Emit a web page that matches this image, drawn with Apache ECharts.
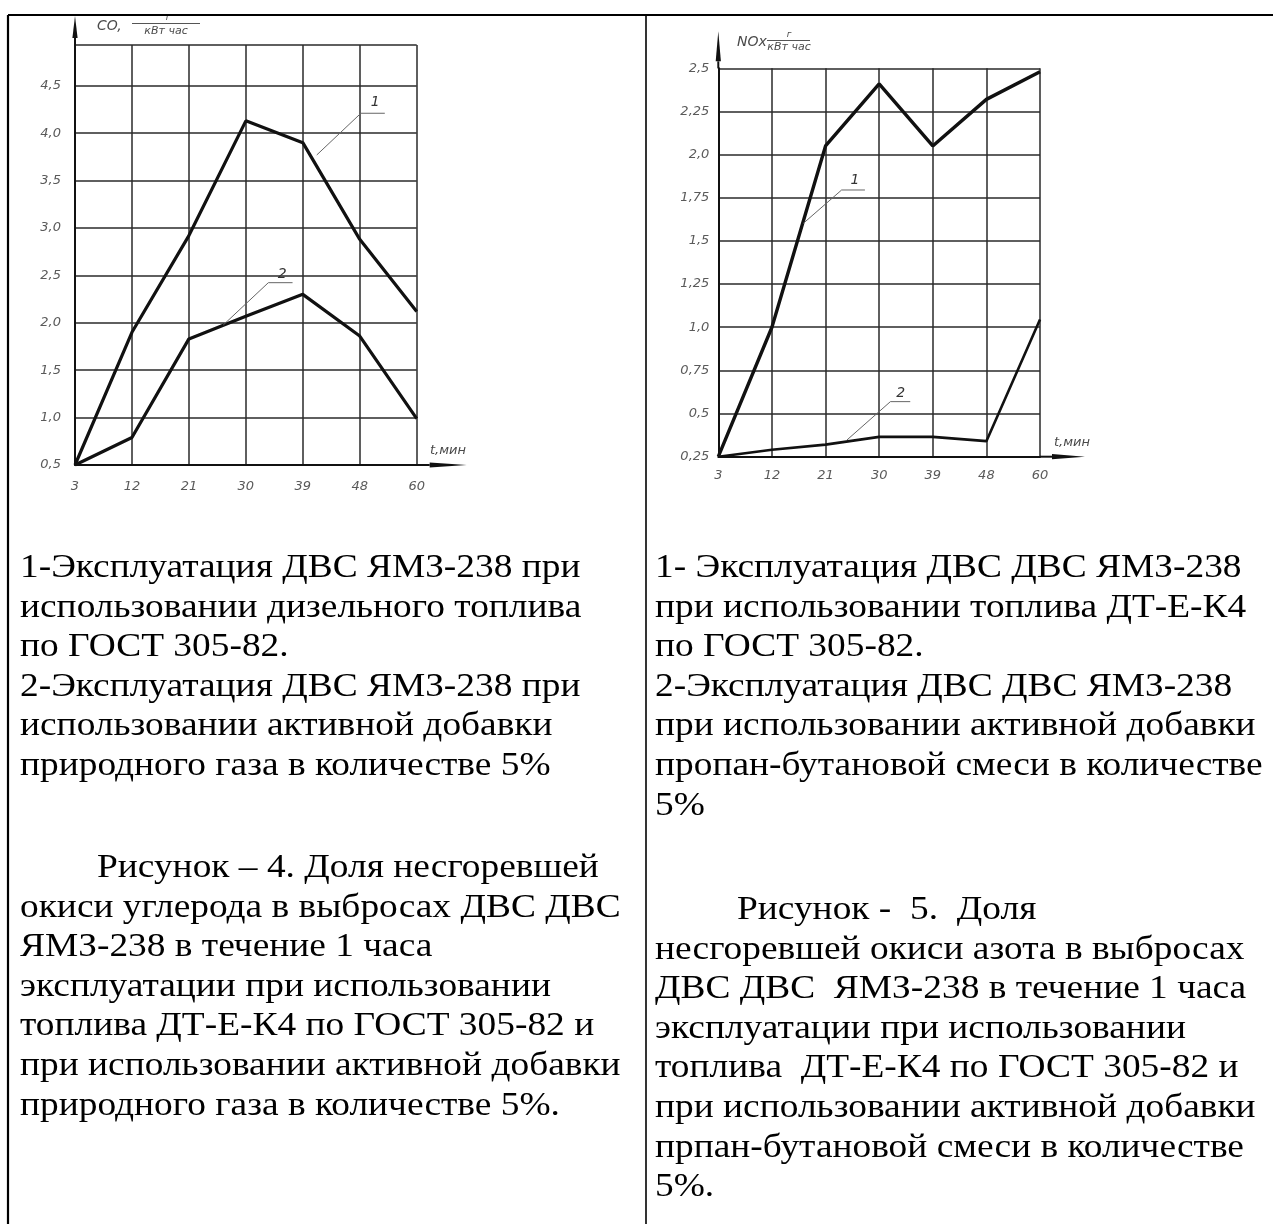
<!DOCTYPE html>
<html><head><meta charset="utf-8">
<script src="https://cdn.jsdelivr.net/npm/echarts@6/dist/echarts.min.js"></script>
<style>html,body{margin:0;padding:0;background:#fff}#c{width:1273px;height:1224px}</style>
</head><body><div id="c"></div><script>
// ---- data ----
const times = ['3', '12', '21', '30', '39', '48', '60'];
const coDiesel = [0.5, 1.9, 2.92, 4.13, 3.9, 2.88, 2.12];
const coGas = [0.5, 0.79, 1.83, 2.07, 2.3, 1.86, 0.99];
const noxDiesel = [0.25, 1.0, 2.05, 2.41, 2.05, 2.32, 2.48];
const noxPropane = [0.25, 0.29, 0.32, 0.365, 0.365, 0.34, 1.045];
const coTicks = ['0,5', '1,0', '1,5', '2,0', '2,5', '3,0', '3,5', '4,0', '4,5'];
const noxTicks = ['0,25', '0,5', '0,75', '1,0', '1,25', '1,5', '1,75', '2,0', '2,25', '2,5'];

const capLeft1 = ['1-Эксплуатация ДВС ЯМЗ-238 при', 'использовании дизельного топлива', 'по ГОСТ 305-82.', '2-Эксплуатация ДВС ЯМЗ-238 при', 'использовании активной добавки', 'природного газа в количестве 5%'];
const capLeft2 = ['Рисунок – 4. Доля несгоревшей', 'окиси углерода в выбросах ДВС ДВС', 'ЯМЗ-238 в течение 1 часа', 'эксплуатации при использовании', 'топлива ДТ-Е-К4 по ГОСТ 305-82 и', 'при использовании активной добавки', 'природного газа в количестве 5%.'];
const capRight1 = ['1- Эксплуатация ДВС ДВС ЯМЗ-238', 'при использовании топлива ДТ-Е-К4', 'по ГОСТ 305-82.', '2-Эксплуатация ДВС ДВС ЯМЗ-238', 'при использовании активной добавки', 'пропан-бутановой смеси в количестве', '5%'];
const capRight2 = ['Рисунок -  5.  Доля', 'несгоревшей окиси азота в выбросах', 'ДВС ДВС  ЯМЗ-238 в течение 1 часа', 'эксплуатации при использовании', 'топлива  ДТ-Е-К4 по ГОСТ 305-82 и', 'при использовании активной добавки', 'прпан-бутановой смеси в количестве', '5%.'];

// ---- styles ----
const axisFont = {fontFamily: '"DejaVu Sans", sans-serif', fontStyle: 'italic', fontSize: 13, color: '#5a5a5a'};
const gridLine = {color: '#2a2a2a', width: 1.5};
const serif = '"Liberation Serif", "Times New Roman", serif';
const CAP_SIZE = 34, CAP_SCALE = 1.1, PITCH = 39.6;

function fmt(ticks, min, step) {
  return function (v) {
    const i = Math.round((v - min) / step);
    return Math.abs(v - (min + step * i)) < 1e-6 ? (ticks[i] || '') : '';
  };
}

const chart = echarts.init(document.getElementById('c'));
const option = {
  animation: false,
  backgroundColor: '#fff',
  grid: [
    {left: 75, top: 45, width: 341.7, height: 420},
    {left: 718.3, top: 68.3, width: 321.7, height: 388.4}
  ],
  xAxis: [0, 1].map(i => ({
    gridIndex: i, type: 'category', data: times, boundaryGap: false,
    axisLine: {lineStyle: {color: '#111', width: 2}},
    axisTick: {show: false},
    axisLabel: Object.assign({}, axisFont, {margin: i ? 12 : 15, interval: 0}),
    splitLine: {show: true, interval: 0, lineStyle: gridLine}
  })),
  yAxis: [
    {gridIndex: 0, type: 'value', min: 0.5, max: 4.93, interval: 0.5,
      axisLine: {show: true, lineStyle: {color: '#111', width: 2}}, axisTick: {show: false},
      axisLabel: Object.assign({}, axisFont, {margin: 14, formatter: fmt(coTicks, 0.5, 0.5)}),
      splitLine: {show: true, lineStyle: gridLine}},
    {gridIndex: 1, type: 'value', min: 0.25, max: 2.5, interval: 0.25,
      axisLine: {show: true, lineStyle: {color: '#111', width: 2}}, axisTick: {show: false},
      axisLabel: Object.assign({}, axisFont, {margin: 9, formatter: fmt(noxTicks, 0.25, 0.25)}),
      splitLine: {show: true, lineStyle: gridLine}}
  ],
  series: [
    {type: 'line', xAxisIndex: 0, yAxisIndex: 0, data: coDiesel, symbol: 'none', lineStyle: {color: '#111', width: 3.2}, z: 5},
    {type: 'line', xAxisIndex: 0, yAxisIndex: 0, data: coGas, symbol: 'none', lineStyle: {color: '#111', width: 3.2}, z: 5},
    {type: 'line', xAxisIndex: 1, yAxisIndex: 1, data: noxDiesel, symbol: 'none', lineStyle: {color: '#111', width: 3.4}, z: 5},
    {type: 'line', xAxisIndex: 1, yAxisIndex: 1, data: noxPropane, symbol: 'none', lineStyle: {color: '#111', width: 2.6}, z: 5}
  ]
};
chart.setOption(option);

// pixel helper with fractional category index
function px(g, xi, y) {
  const a = chart.convertToPixel({gridIndex: g}, [0, y]);
  const b = chart.convertToPixel({gridIndex: g}, [1, y]);
  return [a[0] + (b[0] - a[0]) * xi, a[1]];
}
const G = [];
function line(points, w, color) {
  G.push({type: 'polyline', shape: {points: points}, style: {stroke: color || '#111', lineWidth: w, fill: null}, z: 10});
}
function poly(points) {
  G.push({type: 'polygon', shape: {points: points}, style: {fill: '#111'}, z: 10});
}
function text(x, y, t, font, opts) {
  G.push(Object.assign({type: 'text', x: x, y: y, z: 10,
    style: Object.assign({text: t, font: font, fill: '#4a4a4a', textAlign: 'left', textVerticalAlign: 'middle', align: 'left', verticalAlign: 'middle'}, (opts || {}))}));
}

// axis arrows
[0, 1].forEach(g => {
  const o = px(g, 0, g ? 0.25 : 0.5);
  const topY = px(g, 0, g ? 2.5 : 4.93)[1];
  const right = px(g, 6, 0)[0];
  const tipY = g ? topY - 37 : topY - 29;
  const baseY = topY - 7;
  line([[o[0], topY], [o[0], baseY]], 2);
  poly([[o[0], tipY], [o[0] - 2.6, baseY], [o[0] + 2.6, baseY]]);
  const bx = right + (g ? 12 : 13), tx = right + (g ? 45 : 50);
  line([[right, o[1]], [bx, o[1]]], 2);
  poly([[tx, o[1]], [bx, o[1] - 2.6], [bx, o[1] + 2.6]]);
});
const itF = 'italic 13px "DejaVu Sans", sans-serif';
text(430, 451, 't,мин', itF);
text(1054, 443, 't,мин', itF);
// axis titles
text(97, 26, 'CO,', 'italic 14px "DejaVu Sans", sans-serif');
line([[132, 23.5], [200, 23.5]], 1, '#555');
text(168, 18, 'г', 'italic 9px "DejaVu Sans", sans-serif', {textAlign: 'center', align: 'center'});
text(166, 31, 'кВт час', 'italic 11px "DejaVu Sans", sans-serif', {textAlign: 'center', align: 'center'});
text(737, 42, 'NOx', 'italic 14px "DejaVu Sans", sans-serif');
line([[767, 40.5], [810, 40.5]], 1, '#555');
text(789, 34.5, 'г', 'italic 9px "DejaVu Sans", sans-serif', {textAlign: 'center', align: 'center'});
text(789, 47, 'кВт час', 'italic 11px "DejaVu Sans", sans-serif', {textAlign: 'center', align: 'center'});

// leaders
function leader(g, s, e, endX, lab) {
  const p1 = px(g, s[0], s[1]), p2 = px(g, e[0], e[1]), p3 = px(g, endX, e[1]);
  line([p1, p2, p3], 1, '#666');
  const pl = px(g, lab[0], lab[1]);
  text(pl[0], pl[1], lab[2], 'italic 14px "DejaVu Sans", sans-serif', {textAlign: 'center', align: 'center', fill: '#333'});
}
leader(0, [4.245, 3.77], [5.02, 4.21], 5.44, [5.27, 4.32, '1']);
leader(0, [2.604, 1.977], [3.395, 2.423], 3.82, [3.64, 2.51, '2']);
leader(1, [1.586, 1.602], [2.3, 1.795], 2.735, [2.55, 1.85, '1']);
leader(1, [2.4, 0.347], [3.21, 0.569], 3.58, [3.4, 0.615, '2']);

// table borders
line([[8, 15], [1273, 15]], 2.2, '#000');
line([[8, 15], [8, 1224]], 2.2, '#000');
line([[646, 15], [646, 1224]], 1.6, '#000');

// captions
function block(lines, x0, firstBase, indentX) {
  lines.forEach((t, i) => {
    const x = (i === 0 && indentX) ? indentX : x0;
    G.push({type: 'text', x: x, y: firstBase + PITCH * i, scaleX: CAP_SCALE, z: 10,
      style: {text: t, font: CAP_SIZE + 'px ' + serif, fill: '#000', textAlign: 'left', align: 'left', textVerticalAlign: 'bottom', verticalAlign: 'bottom'}});
  });
}
block(capLeft1, 20, 585, 0);
block(capLeft2, 20, 885, 97);
block(capRight1, 655, 585, 0);
block(capRight2, 655, 927, 737);

chart.setOption({graphic: {elements: G}});
</script></body></html>
